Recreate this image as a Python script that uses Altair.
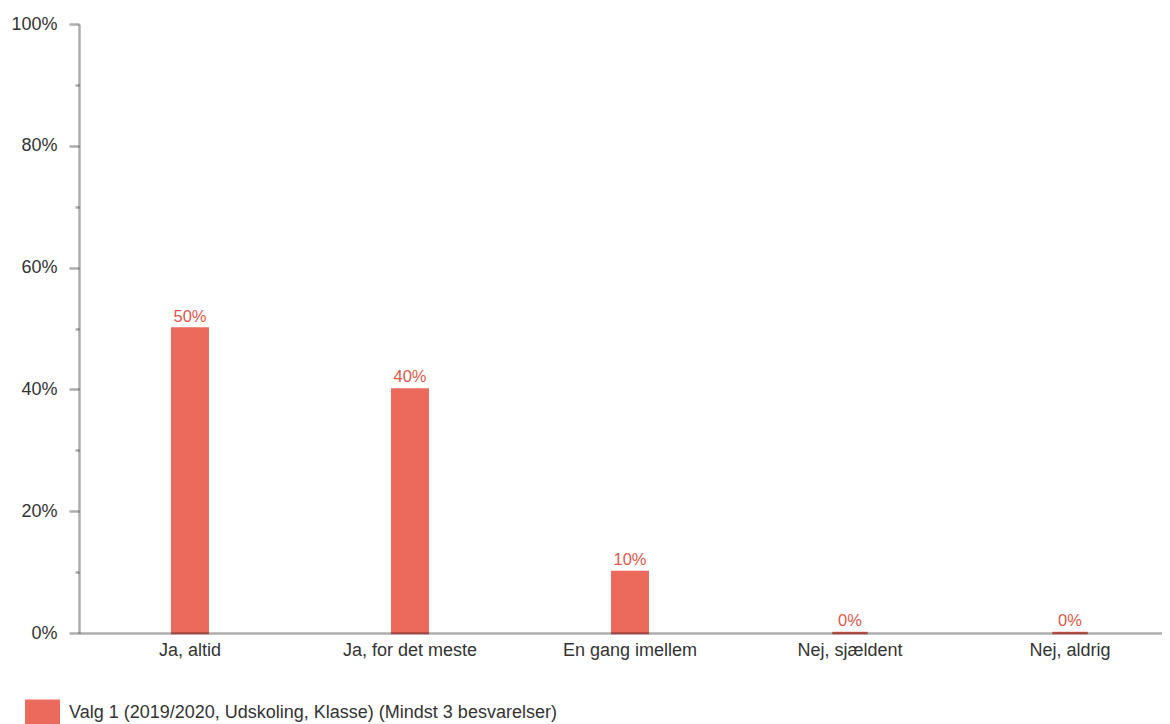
import altair as alt
import pandas as pd

categories = ["Ja, altid", "Ja, for det meste", "En gang imellem", "Nej, sjældent", "Nej, aldrig"]
values = [50, 40, 10, 0, 0]
series_name = "Valg 1 (2019/2020, Udskoling, Klasse) (Mindst 3 besvarelser)"
y_ticks = [0, 10, 20, 30, 40, 50, 60, 70, 80, 90, 100]

df = pd.DataFrame({
    "kategori": categories,
    "andel": values,
    "serie": [series_name] * len(categories),
    "label": [f"{v}%" for v in values],
})

BAR = "#EC6A5C"
TXT = "#333333"

x_enc = alt.X(
    "kategori:N", sort=categories,
    scale=alt.Scale(range=[0, 1102], paddingInner=0.8273, paddingOuter=0.418),
    axis=alt.Axis(title=None, labelAngle=0, ticks=False, labelFontSize=18,
                  labelColor=TXT, labelPadding=8, domainColor="#000000",
                  domainOpacity=0.32, domainWidth=2.5, zindex=1, grid=False),
)
y_enc = alt.Y(
    "andel:Q",
    scale=alt.Scale(domain=[0, 100], nice=False),
    axis=alt.Axis(title=None, values=y_ticks, grid=False,
                  labelExpr="datum.value % 20 === 0 ? datum.value + '%' : ''",
                  labelOverlap=False, labelFontSize=18, labelColor=TXT,
                  labelPadding=12, tickSize={"condition": {"test": "datum.value % 20 === 0", "value": 10}, "value": 4},
                  tickColor="#000000", tickOpacity=0.32, tickWidth=2.5,
                  domainColor="#000000", domainOpacity=0.32, domainWidth=2.5, zindex=1),
)

bars = alt.Chart(df).mark_bar(size=35.5, stroke=BAR, strokeWidth=2.5).encode(
    x=x_enc,
    y=y_enc,
    color=alt.Color(
        "serie:N", scale=alt.Scale(range=[BAR]),
        legend=alt.Legend(title=None, orient="none", legendX=-54, legendY=671,
                          symbolType="M-1,-0.75H1V0.75H-1Z", symbolSize=1225,
                          symbolStrokeWidth=0, symbolOpacity=1, labelFontSize=18,
                          labelColor=TXT, labelLimit=0, labelOffset=9, padding=0),
    ),
)

labels = alt.Chart(df).mark_text(baseline="bottom", dy=-4, fontSize=16.5, color="#E0584A").encode(
    x=alt.X("kategori:N", sort=categories),
    y=alt.Y("andel:Q"),
    text="label:N",
)

chart = alt.layer(bars, labels).properties(
    width=1083, height=609,
    autosize=alt.AutoSizeParams(type="none"),
    padding={"left": 71, "top": 16, "right": 0, "bottom": 100},
).configure(font="Liberation Sans").configure_view(stroke=None)

chart.save("out.html", embed_options={"renderer": "svg", "actions": False})
